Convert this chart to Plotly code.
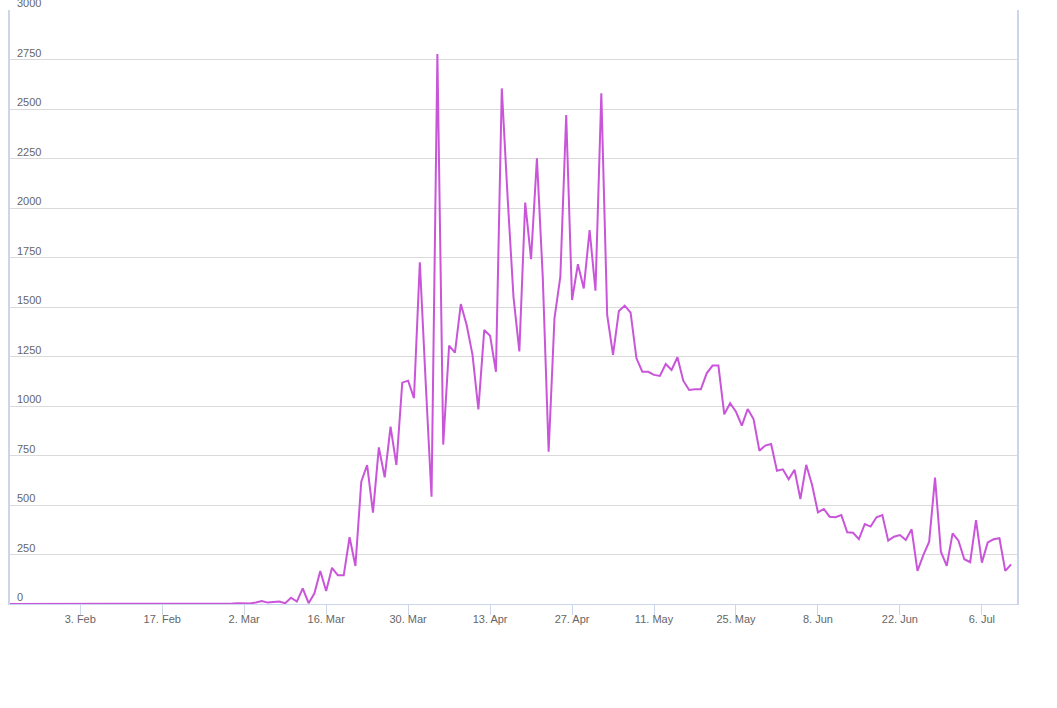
import plotly.graph_objects as go
import pandas as pd

start_date = "2020-01-22"
values = [
    # Jan 22 - Feb 2
    0, 0, 0, 1, 0, 1, 0, 0, 0, 2, 0, 0,
    # Feb 3 - Feb 16
    0, 1, 0, 0, 1, 0, 0, 0, 0, 0, 0, 0, 0, 1,
    # Feb 17 - Mar 1
    0, 0, 0, 1, 1, 0, 0, 2, 1, 0, 3, 1, 2, 4,
    # Mar 2 - Mar 15
    5, 3, 8, 15, 7, 10, 12, 4, 32, 12, 79, 4, 54, 167,
    # Mar 16 - Mar 29
    66, 183, 145, 145, 337, 192, 618, 702, 461, 791, 640, 896, 702, 1118,
    # Mar 30 - Apr 12
    1128, 1040, 1726, 1120, 542, 2778, 805, 1305, 1269, 1515, 1409, 1258, 983, 1384,
    # Apr 13 - Apr 26
    1355, 1173, 2604, 2050, 1550, 1276, 2027, 1742, 2251, 1650, 769, 1443, 1653, 2470,
    # Apr 27 - May 10
    1535, 1716, 1594, 1889, 1582, 2579, 1460, 1258, 1480, 1507, 1471, 1241, 1173, 1173,
    # May 11 - May 24
    1157, 1152, 1212, 1182, 1246, 1128, 1081, 1084, 1084, 1165, 1204, 1204, 958, 1014,
    # May 25 - Jun 7
    971, 901, 985, 934, 774, 800, 808, 673, 680, 630, 678, 530, 703, 601,
    # Jun 8 - Jun 21
    463, 480, 441, 438, 449, 362, 360, 328, 404, 391, 438, 449, 320, 340,
    # Jun 22 - Jul 5
    348, 323, 377, 167, 247, 315, 638, 264, 193, 357, 320, 226, 211, 424,
    # Jul 6 - Jul 11
    209, 311, 327, 332, 167, 200,
]
dates = pd.date_range(start_date, periods=len(values), freq="D")

x_tick_dates = ["2020-02-03", "2020-02-17", "2020-03-02", "2020-03-16", "2020-03-30",
                "2020-04-13", "2020-04-27", "2020-05-11", "2020-05-25", "2020-06-08",
                "2020-06-22", "2020-07-06"]
x_tick_labels = ["3. Feb", "17. Feb", "2. Mar", "16. Mar", "30. Mar", "13. Apr",
                 "27. Apr", "11. May", "25. May", "8. Jun", "22. Jun", "6. Jul"]
y_ticks = [0, 250, 500, 750, 1000, 1250, 1500, 1750, 2000, 2250, 2500, 2750, 3000]

FONT = "Liberation Sans, Arial, sans-serif"

fig = go.Figure()
fig.add_trace(go.Scatter(
    x=dates, y=values, mode="lines",
    line=dict(color="#c955d9", width=2),
    hoverinfo="x+y", showlegend=False,
))

for v in y_ticks:
    fig.add_annotation(
        x=0, xref="paper", y=v, yref="y",
        text=str(v), showarrow=False,
        xanchor="left", yanchor="middle", xshift=5, yshift=7,
        font=dict(family=FONT, size=11, color="#666666"),
    )

fig.update_layout(
    width=1057, height=708,
    margin=dict(l=10, r=40, t=10, b=104, autoexpand=False),
    paper_bgcolor="white", plot_bgcolor="white",
    font=dict(family=FONT, size=11, color="#666666"),
    xaxis=dict(
        type="date",
        range=["2020-01-22", "2020-07-12"],
        tickvals=x_tick_dates, ticktext=x_tick_labels,
        ticks="outside", ticklen=10, tickcolor="#ccd6eb", tickwidth=1,
        ticklabelstandoff=-5,
        showgrid=False, showline=True, linecolor="#ccd6eb", linewidth=1,
        zeroline=False, automargin=False,
        tickfont=dict(family=FONT, size=11, color="#666666"),
    ),
    yaxis=dict(
        range=[0, 3000], tickvals=y_ticks, showticklabels=False,
        showgrid=True, gridcolor="#dadada", gridwidth=1,
        showline=True, linecolor="#ccd6eb", linewidth=2, mirror=True,
        zeroline=False, ticks="", automargin=False,
    ),
)

fig.write_html(
    "out.html",
    config={"displayModeBar": False},
    post_script="document.body.style.margin='0';document.body.style.overflow='hidden';",
)
